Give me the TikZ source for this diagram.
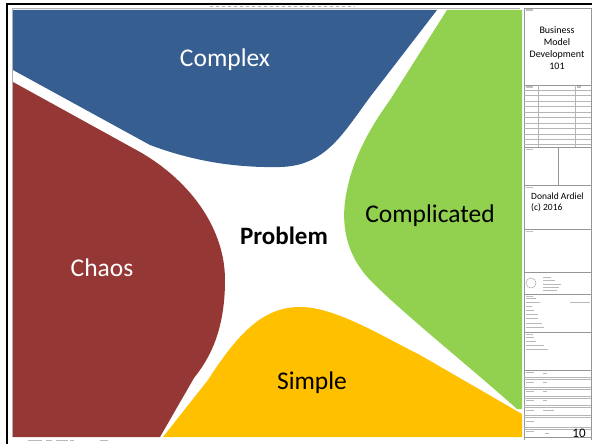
\documentclass[tikz,border=0pt]{standalone}
\usepackage{fontspec}
\setmainfont{Carlito}
\definecolor{cblue}{RGB}{54,94,144}
\definecolor{cred}{RGB}{149,55,53}
\definecolor{cgreen}{RGB}{146,208,80}
\definecolor{cyellow}{RGB}{255,192,0}
\definecolor{tline}{RGB}{150,150,150}
\tikzset{
  region/.style={draw=none},
  bigwhite/.style={text=white,font=\fontsize{25.5}{28}\selectfont,inner sep=0pt},
  bigblack/.style={text=black,font=\fontsize{25.5}{28}\selectfont,inner sep=0pt},
  tb/.style={draw=tline,line width=0.6pt},
  tbthin/.style={draw=tline!70,line width=0.4pt},
  scrib/.style={fill=gray!55,draw=none},
  small/.style={font=\fontsize{9.5}{11}\selectfont,inner sep=0pt,align=left}
}
\begin{document}
\begin{tikzpicture}[x=1pt,y=-1pt]
\useasboundingbox (0,0) rectangle (592,444);
\fill[white] (0,0) rectangle (592,444);
% outer frame
\draw[black,line width=2.2pt] (7,444) -- (7,4) -- (592,4);
\draw[gray!60,line width=1pt] (12,437) -- (12,9) -- (520,9);
\draw[gray!60,line width=1.5pt,dash pattern=on 3pt off 3pt] (210,6.5) -- (355,6.5);
% regions
\fill[cblue] (13,10) -- (437,10) -- (370,97) .. controls (342,135) and (325,166) .. (280,167)
  .. controls (232,168) and (190,160) .. (150,145) -- (13,70) -- cycle;
\fill[cred] (13,82) -- (140,152) .. controls (192,182) and (225,230) .. (225,280)
  .. controls (225,330) and (210,358) .. (194,378) -- (160,437) -- (13,437) -- cycle;
\fill[cgreen] (447,10) -- (522,10) -- (522,409) -- (517,409)
  .. controls (470,367) and (405,315) .. (372,282)
  .. controls (345,255) and (340,222) .. (347,190)
  .. controls (354,155) and (372,125) .. (390,100) -- cycle;
\fill[cyellow] (163,437) -- (208,380) .. controls (240,330) and (265,307) .. (300,307)
  .. controls (335,307) and (380,335) .. (420,355) -- (522,414) -- (522,437) -- cycle;
% labels
\node[bigwhite] (complex) at (225,60) {Complex};
\node[bigwhite] (chaos) at (102,268) {Chaos};
\node[bigblack] (complicated) at (430,216) {Complicated};
\node[bigblack] (simple) at (312,383) {Simple};
\node[bigblack,font=\fontsize{25}{28}\selectfont\bfseries] (problem) at (284,236) {Problem};
% title block frame
\draw[tb] (524,8) -- (524,440) (591,8) -- (591,440) (524,8) -- (591,8);
\foreach \yy in {85,147,185,229,272,294,332,370,437}{\draw[tb] (524,\yy) -- (591,\yy);}
% table rows
\foreach \yy in {90,95.5,101,106.5,112,117.5,123,128.5,134,139.5,144}{\draw[tbthin] (524,\yy) -- (591,\yy);}
\draw[tbthin] (538,85) -- (538,147) (575,85) -- (575,147);
\draw[tb] (558,147) -- (558,185);
% lower rows
\foreach \yy in {377,379,387,389,396,398,405,407,415,417,427,429}{\draw[tbthin] (524,\yy) -- (591,\yy);}
% tiny labels
\foreach \yy in {9.5,86.5,148.5,186.5,230.5,295.5,333.5}{\fill[gray!50] (526,\yy) rectangle (533,\yy+1.2);}
\fill[gray!50] (577,86.5) rectangle (581,87.7);
% logo
\draw[gray!70,line width=0.5pt] (531,283) circle (5);
\foreach \yy/\ww in {277/8,280/12,284/18,287/16,290/14}{\fill[scrib] (543,\yy) rectangle (543+\ww,\yy+1.2);}
% scribble text blocks
\foreach \yy/\ww in {298/10,302/14,306/6,310/8,314/12,318/12}{\fill[scrib] (526,\yy) rectangle (526+\ww,\yy+1.3);}
\fill[scrib] (570,302) rectangle (590,303.3);
\foreach \yy/\ww in {323/16,327/18,337/8,341/10,345/18,349/22}{\fill[scrib] (526,\yy) rectangle (526+\ww,\yy+1.3);}
\foreach \yy in {372,382,391,400,410,421,431}{\fill[scrib] (526,\yy) rectangle (534,\yy+1.3);}
\foreach \yy in {373,382,391,400}{\fill[scrib] (543,\yy) rectangle (547,\yy+1.3);}
\fill[scrib] (543,410) rectangle (554,411.3);
\fill[scrib] (545,433) rectangle (549,434.3);
% bottom strip scribbles
\foreach \xx/\ww in {28/14,46/6,56/12,70/4,100/8}{\fill[scrib] (\xx,440) rectangle (\xx+\ww,441.3);}
% title block texts
\node[font=\fontsize{10}{12}\selectfont,align=center,inner sep=0pt] (title) at (557,48) {Business\\Model\\Development\\101};
\node[small,anchor=north west] (author) at (531,193) {Donald Ardiel\\(c) 2016};
\node[font=\fontsize{13}{14}\selectfont,inner sep=0pt] (pagenum) at (579,433) {10};
\end{tikzpicture}
\end{document}
